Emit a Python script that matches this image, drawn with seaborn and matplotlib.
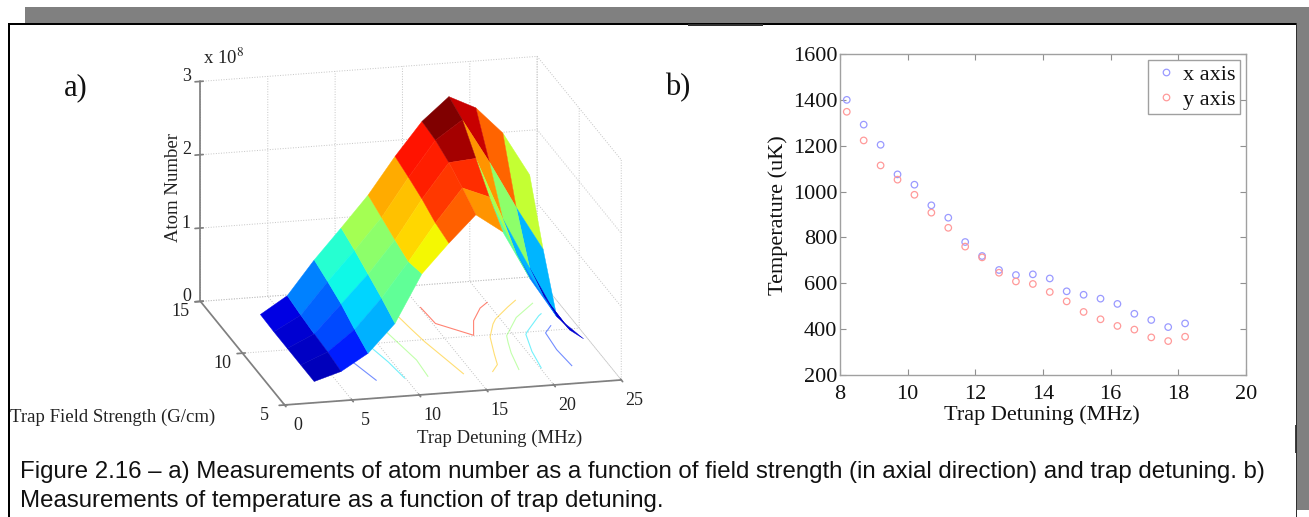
import numpy as np
import pandas as pd
import matplotlib
matplotlib.use("Agg")
import matplotlib.pyplot as plt
import seaborn as sns
from mpl_toolkits.mplot3d import proj3d

# panel a) surface, atom number in units of 1e8
detuning = [3.2, 5.2, 7.2, 9.2, 11.2, 13.2, 15.2, 17.2, 19.2, 21.2, 23.2]
field = [6.6, 8.2, 9.8, 11.4, 13.0]
atoms_f1 = [0.05, 0.16, 0.38, 0.76, 1.41, 1.80, 2.16, 1.90, 1.24, 0.69, 0.36]
atoms_f2 = [0.05, 0.20, 0.48, 0.88, 1.35, 1.85, 2.30, 2.15, 1.35, 0.75, 0.25]
atoms_f3 = [0.05, 0.22, 0.60, 0.98, 1.42, 1.95, 2.42, 2.45, 1.60, 0.90, 0.22]
atoms_f4 = [0.05, 0.25, 0.68, 1.08, 1.50, 2.02, 2.50, 2.75, 2.15, 1.50, 0.90]
atoms_f5 = [0.06, 0.29, 0.75, 1.16, 1.58, 2.08, 2.53, 2.84, 2.66, 2.29, 1.69]
contour_levels = [0.5, 1.0, 1.5, 2.0, 2.5]
detuning_ticks = [0, 5, 10, 15, 20, 25]
field_ticks = [5, 10, 15]
atom_ticks = [0, 1, 2, 3]

# panel b) temperature scatter
trap_detuning = [8.2, 8.7, 9.2, 9.7, 10.2, 10.7, 11.2, 11.7, 12.2, 12.7, 13.2,
                 13.7, 14.2, 14.7, 15.2, 15.7, 16.2, 16.7, 17.2, 17.7, 18.2]
temp_x = [1400, 1292, 1204, 1075, 1030, 940, 886, 780, 719, 658, 636,
          639, 621, 565, 550, 533, 510, 467, 440, 409, 425]
temp_y = [1348, 1223, 1114, 1052, 986, 908, 842, 760, 713, 646, 608,
          597, 562, 521, 475, 443, 414, 398, 364, 348, 367]

caption_1 = ("Figure 2.16 \u2013 a) Measurements of atom number as a function of field strength "
             "(in axial direction) and trap detuning. b)")
caption_2 = "Measurements of temperature as a function of trap detuning."

W, H = 1309, 517
sns.set_theme(style="white")
plt.rcParams["font.family"] = ["Liberation Serif", "DejaVu Serif"]

fig = plt.figure(figsize=(W / 100, H / 100), dpi=100)


def px_rect(x0, y0, x1, y1, **kw):
    fig.add_artist(plt.Rectangle((x0 / W, 1 - y1 / H), (x1 - x0) / W, (y1 - y0) / H,
                                 transform=fig.transFigure, zorder=-1, **kw))


def px_text(x, y, s, **kw):
    fig.text(x / W, 1 - y / H, s, **kw)


# -----------------------------
# page furniture
# -----------------------------
px_rect(25, 7, W, 23, facecolor="#808080", edgecolor="none")
px_rect(1297, 23, W, 510, facecolor="#808080", edgecolor="none")
px_rect(8, 23, 1296, H + 5, facecolor="white", edgecolor="none")
px_rect(8, 23, 1297, 24.5, facecolor="black", edgecolor="none")
px_rect(8, 23, 10, H, facecolor="black", edgecolor="none")
px_rect(1296, 23, 1297, H, facecolor="#303030", edgecolor="none")
px_rect(1295, 425, 1296, 453, facecolor="#404040", edgecolor="none")
px_rect(688, 24.5, 763, 25.5, facecolor="#303030", edgecolor="none")

# -----------------------------
# a) surface
# -----------------------------
X, Y = np.meshgrid(detuning, field)
Z = np.array([atoms_f1, atoms_f2, atoms_f3, atoms_f4, atoms_f5])
norm = plt.Normalize(Z.min(), Z.max())
# flat colour from one corner of each cell, as the source plot does
face = plt.get_cmap("jet")(norm(Z[1:, 1:]))

ax = fig.add_axes([0.0996, 0.143, 0.42, 0.80], projection="3d", computed_zorder=False)
ax.set_proj_type("ortho")
ax.view_init(elev=17.6, azim=-103.8)
ax.set_box_aspect((347, 353, 231), zoom=1.281)
ax.patch.set_alpha(0)
ax.contour(X, Y, Z, levels=contour_levels, zdir="z", offset=0, cmap="jet",
           vmin=0, vmax=2.85, linewidths=0.8, alpha=0.55, zorder=1)
ax.plot_surface(X, Y, Z, facecolors=face, rstride=1, cstride=1, shade=False,
                linewidth=0.3, antialiased=True, zorder=2)
ax.set_xlim(0, 25, view_margin=0)
ax.set_ylim(5, 15, view_margin=0)
ax.set_zlim(0, 3, view_margin=0)
ax.set_xticks(detuning_ticks)
ax.set_yticks(field_ticks)
ax.set_zticks(atom_ticks)
ax.set_xticklabels([])
ax.set_yticklabels([])
ax.set_zticklabels([])
ax.zaxis.set_ticks_position("upper")
for axis in (ax.xaxis, ax.yaxis, ax.zaxis):
    axis.set_pane_color((1, 1, 1, 0))
    axis.pane.set_edgecolor("#d0d0d0")
    axis.line.set_color("#808080")
    axis._axinfo["grid"].update(color="#c4c4c4", linewidth=0.7, linestyle=":")
ax.tick_params(color="#808080")


def tick_label(x, y, z, s):
    # tick labels sit off the axis edges along the view, so project them by hand
    a, b, _ = proj3d.proj_transform(x, y, z, ax.get_proj())
    ax.text2D(a, b, s, transform=ax.transData, fontsize=13, color="#222222",
              ha="center", va="center", zorder=5)


for v in detuning_ticks:
    tick_label(v - 0.27, 5 - 1.98, 0, str(v))
for v in field_ticks:
    tick_label(-2.0, v - 0.825, 0, str(v))
for v in atom_ticks:
    tick_label(-1.04, 15, v + 0.08, str(v))

px_text(64, 88, "a)", fontsize=22, color="#111111", va="center")
px_text(203, 58, "x 10$^{8}$", fontsize=13.5, color="#222222", va="center",
        math_fontfamily="stix")
px_text(173, 188, "Atom Number", fontsize=13.5, rotation=90, color="#222222",
        ha="center", va="center")
px_text(113, 417, "Trap Field Strength (G/cm)", fontsize=13.5, color="#222222",
        ha="center", va="center")
px_text(500, 438, "Trap Detuning (MHz)", fontsize=13.5, color="#222222",
        ha="center", va="center")

# -----------------------------
# b) temperature
# -----------------------------
temps = pd.DataFrame({"detuning": trap_detuning * 2,
                      "temperature": temp_x + temp_y,
                      "axis": ["x axis"] * len(temp_x) + ["y axis"] * len(temp_y)})
colours = {"x axis": "#9a9aff", "y axis": "#ff9a9a"}

ax2 = fig.add_axes([840 / W, 1 - 375 / H, 406 / W, 321 / H])
sns.scatterplot(data=temps, x="detuning", y="temperature", hue="axis",
                palette=colours, marker="o", s=22, linewidth=0.9, ax=ax2)
# open circles
for coll in ax2.collections:
    coll.set_edgecolor(coll.get_facecolor())
    coll.set_facecolor("none")
ax2.set_xlim(8, 20)
ax2.set_ylim(200, 1600)
ax2.set_xticks(range(8, 21, 2))
ax2.set_yticks(range(200, 1601, 200))
ax2.tick_params(direction="in", top=True, right=True, length=4, width=0.8,
                color="#909090", labelcolor="#111111", labelsize=16,
                bottom=True, left=True, pad=2)
ax2.tick_params(axis="x", pad=7)
for spine in ax2.spines.values():
    spine.set_color("#a0a0a0")
    spine.set_linewidth(1)
ax2.set_xlabel("")
ax2.set_ylabel("")
px_text(1042, 415, "Trap Detuning (MHz)", fontsize=16, color="#111111",
        ha="center", va="center")
px_text(778, 215, "Temperature (uK)", fontsize=16, rotation=90, color="#111111",
        ha="center", va="center")
leg = ax2.legend(loc="upper right", fontsize=16, fancybox=False, framealpha=1,
                 edgecolor="#a0a0a0", borderaxespad=0.25, borderpad=0.2,
                 labelspacing=0.22, handlelength=1.2, handletextpad=0.2,
                 labelcolor="#111111", title=None)
for handle, name in zip(leg.legend_handles, colours):
    handle.set_markerfacecolor("none")
    handle.set_markeredgecolor(colours[name])
    handle.set_markersize(4.7)

px_text(665, 88, "b)", fontsize=22, color="#111111", va="center")

# -----------------------------
# caption
# -----------------------------
px_text(20, 478, caption_1, fontsize=17.3, family="Liberation Sans", color="#111111", va="baseline")
px_text(20, 507, caption_2, fontsize=17.3, family="Liberation Sans", color="#111111", va="baseline")

fig.savefig("out.png", dpi=100)
